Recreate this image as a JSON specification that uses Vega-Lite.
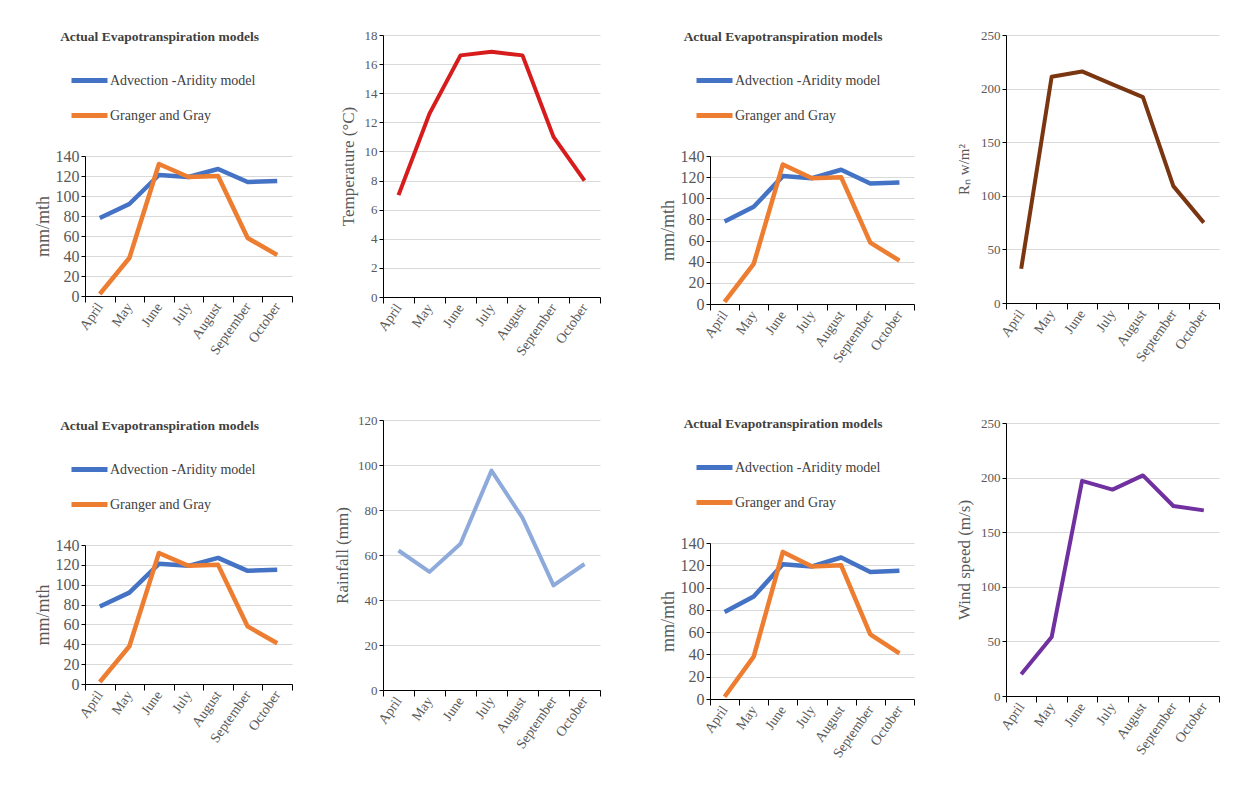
{
  "$schema": "https://vega.github.io/schema/vega-lite/v6.json",
  "background": "white",
  "padding": {"left": 34, "top": 28, "right": 5, "bottom": 5},
  "datasets": {
    "et": [
      {"month": "April", "model": "Advection -Aridity model", "value": 78},
      {"month": "May", "model": "Advection -Aridity model", "value": 92},
      {"month": "June", "model": "Advection -Aridity model", "value": 121},
      {"month": "July", "model": "Advection -Aridity model", "value": 119},
      {"month": "August", "model": "Advection -Aridity model", "value": 127},
      {"month": "September", "model": "Advection -Aridity model", "value": 114},
      {"month": "October", "model": "Advection -Aridity model", "value": 115},
      {"month": "April", "model": "Granger and Gray", "value": 2},
      {"month": "May", "model": "Granger and Gray", "value": 38},
      {"month": "June", "model": "Granger and Gray", "value": 132},
      {"month": "July", "model": "Granger and Gray", "value": 119},
      {"month": "August", "model": "Granger and Gray", "value": 120},
      {"month": "September", "model": "Granger and Gray", "value": 58},
      {"month": "October", "model": "Granger and Gray", "value": 41}
    ],
    "temp": [
      {"month": "April", "value": 7.0},
      {"month": "May", "value": 12.6},
      {"month": "June", "value": 16.6},
      {"month": "July", "value": 16.85},
      {"month": "August", "value": 16.6},
      {"month": "September", "value": 11.0},
      {"month": "October", "value": 8.0}
    ],
    "rn": [
      {"month": "April", "value": 32},
      {"month": "May", "value": 211},
      {"month": "June", "value": 216},
      {"month": "July", "value": 204},
      {"month": "August", "value": 192},
      {"month": "September", "value": 109},
      {"month": "October", "value": 75}
    ],
    "rain": [
      {"month": "April", "value": 62},
      {"month": "May", "value": 52.5},
      {"month": "June", "value": 65},
      {"month": "July", "value": 97.5},
      {"month": "August", "value": 76.5},
      {"month": "September", "value": 46.5},
      {"month": "October", "value": 56}
    ],
    "wind": [
      {"month": "April", "value": 20},
      {"month": "May", "value": 54},
      {"month": "June", "value": 197},
      {"month": "July", "value": 189},
      {"month": "August", "value": 202},
      {"month": "September", "value": 174},
      {"month": "October", "value": 170}
    ]
  },
  "config": {
    "font": "Liberation Serif",
    "view": {"stroke": null},
    "axis": {
      "labelFont": "Liberation Serif",
      "titleFont": "Liberation Serif",
      "labelColor": "#595959",
      "titleColor": "#595959",
      "titleFontWeight": "normal",
      "titleFontSize": 17,
      "labelFontSize": 13,
      "domainColor": "#000000",
      "tickColor": "#000000",
      "gridColor": "#d9d9d9",
      "gridWidth": 1
    },
    "axisX": {"grid": false, "tickBand": "extent", "labelAngle": -55, "labelAlign": "right", "labelBaseline": "middle", "tickSize": 6, "labelPadding": 2, "labelFontSize": 14, "title": null},
    "axisY": {"grid": true, "tickSize": 4, "labelPadding": 2},
    "legend": {
      "labelFont": "Liberation Serif",
      "labelFontSize": 14,
      "labelColor": "#404040",
      "symbolType": "stroke",
      "symbolSize": 1296,
      "symbolStrokeWidth": 5,
      "labelOffset": 0,
      "rowPadding": 4,
      "padding": 0,
      "title": null
    },
    "title": {"font": "Liberation Serif", "fontSize": 13.5, "fontWeight": "bold", "color": "#404040", "offset": 17}
  },
  "resolve": {"scale": {"color": "independent"}, "legend": {"color": "independent"}},
  "columns": 4,
  "align": {"row": "none", "column": "each"},
  "spacing": {"row": 0, "column": 40},
  "concat": [
    {"width": 207, "height": 1, "data": {"values": []}, "mark": {"type": "point", "opacity": 0}, "encoding": {}},
    {"width": 236, "height": 1, "data": {"values": []}, "mark": {"type": "point", "opacity": 0}, "encoding": {}},
    {"width": 204, "height": 1, "data": {"values": []}, "mark": {"type": "point", "opacity": 0}, "encoding": {}},
    {"width": 213, "height": 1, "data": {"values": []}, "mark": {"type": "point", "opacity": 0}, "encoding": {}},
    {
      "resolve": {"scale": {"color": "independent"}, "legend": {"color": "independent"}},
      "spacing": 60,
      "vconcat": [
        {
          "width": 207, "height": 140,
          "data": {"name": "et"},
          "title": {"text": "Actual Evapotranspiration models", "dx": -29},
          "mark": {"type": "line", "strokeWidth": 4.5, "strokeJoin": "round"},
          "encoding": {
            "x": {"field": "month", "type": "nominal", "sort": ["April", "May", "June", "July", "August", "September", "October"], "scale": {"type": "band", "paddingInner": 0, "paddingOuter": 0}},
            "y": {"field": "value", "type": "quantitative", "scale": {"domain": [0, 140]}, "axis": {"values": [0, 20, 40, 60, 80, 100, 120, 140], "title": "mm/mth", "labelFontSize": 16, "titleFontSize": 18, "titlePadding": 3}},
            "color": {"field": "model", "type": "nominal", "scale": {"domain": ["Advection -Aridity model", "Granger and Gray"], "range": ["#4472C4", "#ED7D31"]}, "legend": {"orient": "none", "direction": "vertical", "legendX": -16, "legendY": -96}}
          }
        },
        {
          "width": 207, "height": 139,
          "data": {"name": "et"},
          "title": {"text": "Actual Evapotranspiration models", "dx": -29},
          "mark": {"type": "line", "strokeWidth": 4.5, "strokeJoin": "round"},
          "encoding": {
            "x": {"field": "month", "type": "nominal", "sort": ["April", "May", "June", "July", "August", "September", "October"], "scale": {"type": "band", "paddingInner": 0, "paddingOuter": 0}},
            "y": {"field": "value", "type": "quantitative", "scale": {"domain": [0, 140]}, "axis": {"values": [0, 20, 40, 60, 80, 100, 120, 140], "title": "mm/mth", "labelFontSize": 16, "titleFontSize": 18, "titlePadding": 3}},
            "color": {"field": "model", "type": "nominal", "scale": {"domain": ["Advection -Aridity model", "Granger and Gray"], "range": ["#4472C4", "#ED7D31"]}, "legend": {"orient": "none", "direction": "vertical", "legendX": -16, "legendY": -96}}
          }
        }
      ]
    },
    {
      "resolve": {"scale": {"color": "independent"}, "legend": {"color": "independent"}},
      "spacing": 55,
      "vconcat": [
        {
          "width": 217, "height": 262,
          "data": {"name": "temp"},
          "mark": {"type": "line", "strokeWidth": 4, "color": "#d61c1c", "strokeJoin": "round"},
          "encoding": {
            "x": {"field": "month", "type": "nominal", "sort": ["April", "May", "June", "July", "August", "September", "October"], "scale": {"type": "band", "paddingInner": 0, "paddingOuter": 0}},
            "y": {"field": "value", "type": "quantitative", "scale": {"domain": [0, 18]}, "axis": {"values": [0, 2, 4, 6, 8, 10, 12, 14, 16, 18], "title": "Temperature  (°C)", "titlePadding": 6.5}}
          }
        },
        {
          "width": 217, "height": 270,
          "data": {"name": "rain"},
          "mark": {"type": "line", "strokeWidth": 4, "color": "#8eaadb", "strokeJoin": "round"},
          "encoding": {
            "x": {"field": "month", "type": "nominal", "sort": ["April", "May", "June", "July", "August", "September", "October"], "scale": {"type": "band", "paddingInner": 0, "paddingOuter": 0}},
            "y": {"field": "value", "type": "quantitative", "scale": {"domain": [0, 120]}, "axis": {"values": [0, 20, 40, 60, 80, 100, 120], "title": "Rainfall (mm)", "titlePadding": 6.5}}
          }
        }
      ]
    },
    {
      "resolve": {"scale": {"color": "independent"}, "legend": {"color": "independent"}},
      "spacing": 50,
      "vconcat": [
        {
          "width": 204, "height": 148,
          "data": {"name": "et"},
          "title": {"text": "Actual Evapotranspiration models", "dx": -29},
          "mark": {"type": "line", "strokeWidth": 4.5, "strokeJoin": "round"},
          "encoding": {
            "x": {"field": "month", "type": "nominal", "sort": ["April", "May", "June", "July", "August", "September", "October"], "scale": {"type": "band", "paddingInner": 0, "paddingOuter": 0}},
            "y": {"field": "value", "type": "quantitative", "scale": {"domain": [0, 140]}, "axis": {"values": [0, 20, 40, 60, 80, 100, 120, 140], "title": "mm/mth", "labelFontSize": 16, "titleFontSize": 18, "titlePadding": 3}},
            "color": {"field": "model", "type": "nominal", "scale": {"domain": ["Advection -Aridity model", "Granger and Gray"], "range": ["#4472C4", "#ED7D31"]}, "legend": {"orient": "none", "direction": "vertical", "legendX": -16, "legendY": -96}}
          }
        },
        {
          "width": 204, "height": 156,
          "data": {"name": "et"},
          "title": {"text": "Actual Evapotranspiration models", "dx": -29},
          "mark": {"type": "line", "strokeWidth": 4.5, "strokeJoin": "round"},
          "encoding": {
            "x": {"field": "month", "type": "nominal", "sort": ["April", "May", "June", "July", "August", "September", "October"], "scale": {"type": "band", "paddingInner": 0, "paddingOuter": 0}},
            "y": {"field": "value", "type": "quantitative", "scale": {"domain": [0, 140]}, "axis": {"values": [0, 20, 40, 60, 80, 100, 120, 140], "title": "mm/mth", "labelFontSize": 16, "titleFontSize": 18, "titlePadding": 3}},
            "color": {"field": "model", "type": "nominal", "scale": {"domain": ["Advection -Aridity model", "Granger and Gray"], "range": ["#4472C4", "#ED7D31"]}, "legend": {"orient": "none", "direction": "vertical", "legendX": -16, "legendY": -96}}
          }
        }
      ]
    },
    {
      "resolve": {"scale": {"color": "independent"}, "legend": {"color": "independent"}},
      "spacing": 52,
      "vconcat": [
        {
          "width": 213, "height": 268,
          "data": {"name": "rn"},
          "mark": {"type": "line", "strokeWidth": 4, "color": "#7a3511", "strokeJoin": "round"},
          "encoding": {
            "x": {"field": "month", "type": "nominal", "sort": ["April", "May", "June", "July", "August", "September", "October"], "scale": {"type": "band", "paddingInner": 0, "paddingOuter": 0}},
            "y": {"field": "value", "type": "quantitative", "scale": {"domain": [0, 250]}, "axis": {"values": [0, 50, 100, 150, 200, 250], "title": "Rₙ w/m²", "titleFontSize": 15, "titlePadding": 9.5}}
          }
        },
        {
          "width": 213, "height": 273,
          "data": {"name": "wind"},
          "mark": {"type": "line", "strokeWidth": 4, "color": "#7030a0", "strokeJoin": "round"},
          "encoding": {
            "x": {"field": "month", "type": "nominal", "sort": ["April", "May", "June", "July", "August", "September", "October"], "scale": {"type": "band", "paddingInner": 0, "paddingOuter": 0}},
            "y": {"field": "value", "type": "quantitative", "scale": {"domain": [0, 250]}, "axis": {"values": [0, 50, 100, 150, 200, 250], "title": "Wind speed (m/s)", "titlePadding": 7.5}}
          }
        }
      ]
    }
  ]
}
